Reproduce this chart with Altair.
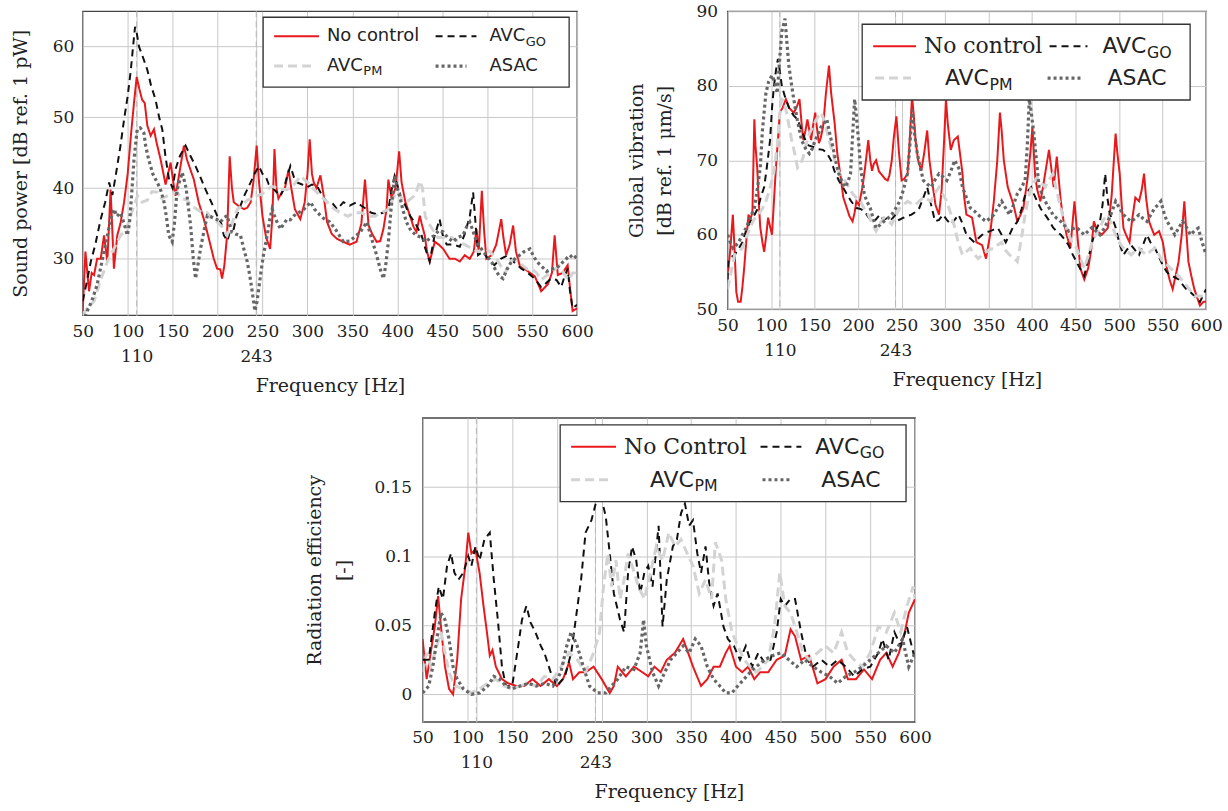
import altair as alt
import pandas as pd

SERIF = "DejaVu Serif"
SANS = "DejaVu Sans"
TXT = "#222222"

FREQ_TICKS = [50, 100, 110, 150, 200, 243, 250, 300, 350, 400, 450, 500, 550, 600]
MARK_FREQS = [110, 243]

# ---------------- Sound power [dB ref 1 pW] ----------------
SP_NC = [(50,22.6),(53,31),(57,25.4),(60,28),(62.6,27.7),(66,30),(70,30),(73.7,33.3),(77.4,29.6),(81,39.8),(84.7,28.6),(88.4,33.3),(92,35),(96,38),(100,42),(104,48),(107,52),(110,55.7),(113,54),(116,52.5),(119,52),(121.9,48.8),(125.6,47.4),(129.3,48.3),(132,46.5),(136.7,44),(142.2,40.5),(147.8,43.6),(150.5,41),(153.3,38.9),(158,42.5),(162.5,46),(166,44),(173.6,41.2),(179,38),(184.7,35.6),(190,33),(195.8,30),(199.5,28.6),(203,28.5),(205,27.2),(207.5,29),(210.6,33.3),(213.5,44.5),(216,40),(218,38),(223,37.5),(229.3,37),(233,37.2),(236.8,38),(240,41),(243.5,46),(246,41),(250,36),(254,33),(258.5,31.4),(261,36),(263.3,45.5),(265.5,40),(267.7,38.5),(272,39.5),(275,40),(279,42.6),(282,40),(286,37),(292,35.6),(297,38),(300,42),(302.5,46.9),(305,42),(307,40.8),(310,40),(314.4,41.8),(318,39),(321.8,35.2),(327,33.5),(333,32.8),(339.8,32.4),(347,32),(354.6,32.4),(360,35),(364,41.2),(368,34.7),(372,33.5),(377,32.4),(381,32.5),(384.5,34.2),(388,37),(390,41.2),(393.7,38.5),(398,40),(402,45.2),(404.7,40.8),(409,38),(414,36.1),(418,34.5),(421.3,33.8),(425,36.1),(427,35),(430.5,33.3),(433,31),(436,29.6),(441.7,32.4),(446,32),(451,31.4),(458,30),(464,30),(469.5,29.6),(475,30.5),(480.6,30),(485,31),(488,34.2),(490.5,31),(494,39.6),(496.5,34),(499,30),(505,30.5),(510,32),(515.6,35.6),(518,33),(521,30.5),(525,32),(528.8,34.7),(532,31),(536,29.1),(545.5,28.2),(553,27.5),(560,25.4),(567.5,26.4),(572,28),(575,33.3),(578.5,27.7),(584,28),(589.5,29.1),(592,26),(595,22.6),(600,23)]
SP_GO = [(50,24),(55,27),(59,29.6),(64,32),(70,35.6),(75,38),(79.4,40.8),(83,39),(87,42),(92,46),(96,49.7),(100,53),(103.5,56.7),(106,60),(108.2,62.8),(110,62),(112.6,60),(117,58.5),(121.9,56.7),(126,54.5),(131,52.5),(135,50),(138.5,48.3),(142,44.5),(146,41.2),(150,40),(153.3,42.7),(158,44.5),(164.4,46),(170,44.5),(175.5,43.1),(181,41.5),(186.6,39.8),(193,38),(199.5,36.1),(204,35),(207,33.3),(211,32.5),(214,34),(218,34.2),(221,36),(225.5,37.5),(230,39),(236.8,40.8),(241,42),(246,43.1),(250,42),(253.4,41.7),(257,40.5),(261,40.1),(265,39.5),(270,38.9),(274,40),(277,41.5),(281,43.1),(285,41.5),(288.5,40.8),(294,40.5),(299.6,40.1),(305,40.5),(310.7,40.3),(316,39),(321.8,38),(327,38),(333,37),(340,38),(347,37.5),(354.6,38),(360,37.5),(365.8,37),(371,36.5),(377,36.3),(384,36.5),(390,37),(394,40),(397,41.7),(401,40),(404.7,38.5),(409,37.5),(414,36.1),(420,35),(427,33.3),(431,31.5),(436,29.6),(441,33),(447,35.6),(451,33),(455,32),(462,32),(469.5,31.7),(475,33.5),(480.6,36),(484.3,39.4),(487,35),(489.8,30.5),(495,31),(501,30),(508,29.1),(515,30),(523,30.5),(530,29.5),(538,28.6),(545,28),(552.7,27.2),(560,26),(565,26.5),(571,27.2),(577,27),(582.3,26),(586,27.5),(589.5,28.6),(592,25.5),(595,23),(600,23.5)]
SP_PM = [(50,22),(55,23),(62.6,24),(70,27),(77.4,29.6),(85,31.5),(92,33.3),(98,34),(103.5,36.1),(107,37.5),(111,38.9),(116,38),(122,38.3),(127,39.5),(133,39.4),(138,38.5),(144,38.9),(150,39.2),(155,39.4),(160,38.5),(166,38.3),(171,37.5),(177,37),(183,36.5),(188.6,36.5),(194,35.5),(199.5,35.2),(205,34.5),(210.6,33.3),(216,35),(222,37),(227,37.5),(233,38.3),(238,38.5),(244,38.9),(250,39.2),(255,39.8),(261,40.2),(266,40),(272,39.8),(277.7,39.8),(285,40.5),(292.5,41.7),(300,40.8),(307,39.8),(314,39),(321.8,38),(330,37),(337,36.5),(345,36),(352,36.5),(360,36.5),(367,36),(375,36),(382,36.5),(390,37),(395,38.5),(400,39.5),(405,38.5),(410,38),(415,38.5),(420,39),(425,41),(428,40),(431,36),(435,35),(440,34),(445,33),(452,33),(460,33),(467,32.5),(475,32),(482,31.5),(490,31),(497,31.5),(503,31),(510,30),(515,29),(520,28),(525,29.5),(530,30),(535,29.5),(540,29),(545,28.5),(550,28.5),(555,28),(560,27),(565,27.5),(570,28),(575,28.5),(580,29),(585,28),(590,27),(595,28),(600,28)]
SP_ASAC = [(50,21),(55,22.6),(60,24),(66,26.3),(72,30),(77.4,33.3),(81,35.5),(85,37),(88,36),(92,36.5),(96,35),(99.6,33.3),(102,35),(104.8,39.8),(107,44),(110.6,48.3),(114,48.5),(118,47.8),(120,46),(123.4,44),(128,42),(132.8,40.8),(136,40),(140,38.3),(143,36),(145.7,33.3),(149.5,32.4),(152,35),(155,39.8),(160.7,42.2),(165,40),(170,34.7),(173,30),(175.5,27.2),(178,29),(181,31.4),(185,34),(188.6,36.1),(192,36),(196,35.7),(200,35.5),(203.2,35.2),(207,35.8),(210.6,36.1),(213,35),(216,33.8),(220,33.5),(225.5,33.3),(229,31.5),(233,29.6),(236,27.5),(238.5,25.4),(241.5,22.6),(244,24),(247.8,27.7),(251,30.5),(255.2,33.3),(258,35.5),(260.7,37),(265,35.5),(270,34.2),(274,35),(277.4,35.6),(281,35.5),(285,36.1),(290,36.5),(296,37),(300,37.5),(303.5,38),(308,37),(314.4,36.1),(320,35.5),(325,35.2),(332,34),(340,32.4),(347,32.5),(354.6,33.3),(360,34),(366,35.2),(371,33),(377,30.5),(381,28.5),(384.5,27.2),(387,29),(390,32.4),(393,37),(397,41.7),(400,40),(402.5,38.9),(406,37),(410,35.2),(415,34),(421,33.3),(427,33),(432,32.4),(437,33),(441.7,33.3),(446,34),(451,33.8),(456,33),(462,32.4),(467,33),(473,33.3),(477,34.5),(480.6,35.2),(484,34),(488,32.4),(493,31.5),(499,30.5),(505,29.5),(510,28.2),(514,27.5),(517.6,27.2),(522,28.5),(527,29.6),(531,30),(536,30.5),(541,31),(547.5,31.4),(551,30.5),(555,29.6),(560,29),(566,28.2),(571,28.5),(577,28.7),(580,29),(584.6,29.6),(588,30),(592,30.5),(596,30),(600,30.5)]

# ---------------- Global vibration [dB ref 1 um/s] ----------------
GV_NC = [(50,55),(51,55.5),(53,58),(56,62.7),(58,58),(60,52.3),(62,51),(65,51),(67,53),(69,55.5),(72,60),(74,62.7),(76,62),(78.5,63),(80.7,75.5),(82,72),(84,69),(86,64),(87.5,61),(90,59),(92,57.7),(94.5,60),(96.5,62.3),(99,61),(101,60),(103,64),(105.5,69),(108,73),(110,76.4),(113,77),(117,78.2),(121,77),(126,76.4),(129,77),(132.6,78.2),(135,75),(137,72.7),(139.5,74),(141.7,75.5),(144,74),(146,72.7),(148,74.5),(150.7,76.4),(153,74),(155,72.3),(157,73),(159.7,74.5),(163,79),(166.5,82.7),(169,79),(173,75),(176,71),(180,67.7),(183,65),(187,63.6),(190,62.5),(193.6,61.8),(196,63),(198,64.5),(201,64),(205,66.4),(208,69),(211.7,72.7),(214,70),(216,68.6),(218,69.5),(220.7,70),(224,68.5),(227.5,68),(231,67.5),(234,67.3),(236,68),(238.7,70),(241,73),(244,75.9),(247,71),(250,67.3),(253,67.5),(256.8,68.2),(259,72),(262,78.6),(264,76),(266,72.7),(269,70),(272.6,68.6),(276,71),(279.4,74),(282,70),(286,66.4),(289,64),(293,62.7),(296,66),(299,73),(301,78.2),(303,75),(306.5,71.4),(310,72.7),(314.6,73.2),(317,71),(320,68.2),(322,65),(324.5,62.7),(328,62.5),(331,62.3),(336,59),(342.6,58.6),(347,56.8),(351.7,60),(356,64.5),(360,70),(363,76.4),(365,74),(367.5,70),(372,66.4),(378.7,64),(383,61.8),(386,62.5),(390,63.6),(394.5,67.3),(398,71),(400.4,74.5),(402,71),(403.6,67.7),(406,66),(409.5,64.5),(412,66),(415,68.2),(419.4,71.4),(422,69),(424.8,66.4),(428.4,70.5),(431,67),(433,64.5),(436,62),(439.7,60),(444,58.2),(448.7,64.5),(452,60),(455.5,55.5),(460,54),(464.5,55.5),(468,58),(471,61.8),(475,60.5),(480,60),(484,60.5),(487,60.9),(489.5,63),(491.6,65.5),(494,70),(496,73.6),(498,71),(500.7,68.2),(503,64),(505,60.9),(508,60),(512,59),(515,62),(518.7,65),(523,64.5),(526,66),(528.7,68.2),(531,65),(534.5,61.8),(537,61),(540.4,60),(546,60.5),(550.3,59),(553,57),(555,55.5),(558,54),(561.6,52.7),(565,54.5),(568.4,56.4),(572,60),(575,64.5),(577,61),(579.7,56.4),(583,54.5),(586.5,52.7),(590,51.5),(593,50.5),(597,51),(600,51)]
GV_GO = [(50,54),(50.5,56.4),(54,57),(58,57.3),(62,58),(67,59),(71,60.5),(76,61.8),(80,62.5),(85,63.6),(88,65),(92,66.4),(95,69),(98.8,72.7),(101,77),(103.3,80),(105.5,82),(107.8,83.6),(110,82),(112.3,80),(116,78.5),(121.3,76.8),(126,76),(130.4,75.5),(135,74),(139.4,72.7),(143,72),(148.4,71.8),(154,71.5),(159.7,71.4),(164,71),(168.8,70),(173,68.5),(177.8,67.3),(182,66.5),(186.8,65.5),(192,64.5),(198,63.6),(202,63.5),(207,63.2),(211,62.5),(216,61.8),(220,62),(225,62.7),(229,62),(234,62.3),(238,62),(243,62.7),(247,62),(252.3,62.3),(256,62.5),(261.3,62.7),(265,63),(270.4,63.6),(275,65),(279.4,66.4),(284,64),(288.4,61.8),(293,62),(297.5,62.7),(302,62),(306.5,61.4),(311,62),(315.5,62.7),(320,61.5),(324.6,60),(329,59.5),(333.6,59),(338,59.5),(342.6,60),(347,60.3),(351.7,60.5),(356,60.7),(360.7,60.9),(365,60),(369.7,59),(374,60),(378,61),(383.3,61.8),(388,63.5),(392.3,65.5),(396,66),(399,66.4),(402,65.5),(405.8,64.5),(410,63.5),(414.9,62.7),(419,62),(424,61),(428,60.5),(433,60),(438,59.3),(442,58.6),(446,57.5),(451,56.4),(455,55.5),(460,54.5),(464,56.5),(469,59),(473,60.5),(478,61.8),(481,64),(484,68.2),(486.5,65),(489.4,62.7),(493,62),(496,61),(500,59),(505,57.3),(509,58),(514,58.6),(518,58),(523,57.3),(527,58.5),(532,60),(536,59),(541.3,58.2),(546,57),(550.3,55.9),(555,55),(559.4,54.5),(564,54.3),(568.4,54),(573,53.3),(577.4,52.7),(582,52.3),(586.5,51.8),(590,51.3),(593,51),(597,52),(600,52.7)]
GV_PM = [(50,52.7),(54,55),(58,57.3),(62,57.7),(67,58.2),(71,59.5),(76,61),(80,62),(85,62.7),(90,63.5),(94,64.5),(98,66),(103,68.2),(107,72),(110,76),(112,78.2),(114.5,78),(117,76.8),(120,75),(123.6,72.7),(127,71),(130.4,69),(134,69.5),(137,70.5),(140,72),(144,73.6),(148,74.5),(152,75.5),(157.5,76.4),(162,75),(166.5,72.7),(171,71),(175.5,69),(180,68),(184.6,67.3),(189,66.5),(193.6,65.5),(198,65),(202.6,64.5),(207,63.5),(211.7,62.7),(216,61.5),(220.7,60.5),(225,61.5),(229.7,62.3),(234,62),(238.7,61.4),(243,62.5),(247.8,63.6),(252,64),(256.8,64.5),(261,64.2),(265.8,64),(270,64.5),(274.9,65),(279,64.8),(284,64.5),(288,65.5),(293,66.4),(297,65.5),(302,64.5),(306,63),(311,61),(315,59),(320,57.3),(324,57.7),(329,58.2),(333,57.5),(338,56.8),(342,57.2),(347,57.7),(351,58),(356,58.2),(360,58.6),(365,59),(369,58),(374,57.3),(378,57),(383,56.4),(387,59),(392,62.7),(395,64.5),(399,66.4),(402,67),(405.8,67.7),(410,67),(415,66.4),(419,67.3),(424,68.2),(428,66),(433,63.6),(437,61.8),(442,60),(446,59),(451,58.2),(455,57),(460,55.5),(464,57),(469,59),(473,60),(478,61),(482,62),(487,62.7),(491,61.5),(496,60),(500,59),(505,58.2),(509,57.8),(514,57.3),(518,57.8),(523,58.2),(527,57.7),(532,57.3),(536,57.8),(541.3,58.2),(546,57.3),(550,56.4),(555,56),(559.4,55.5),(564,55),(568.4,54.5),(573,53.8),(577.4,53.2),(582,52.5),(586.5,51.8),(593,51.8),(600,51.8)]
GV_ASAC = [(50,60),(53,59),(56,58.2),(59,58.5),(62.6,59),(67,60),(71.7,61),(76,62.3),(80.7,63.6),(84,66),(87.5,69),(90,74),(94,79),(97,80.5),(101,81.4),(104,80.5),(107,79),(109.5,83),(112.3,87.3),(116,89),(118,86),(120.4,82.7),(123,80.5),(126,78.2),(130,75.5),(135,72.7),(140,71.5),(144,70.9),(147,71.5),(150.7,72.7),(154,73.5),(157.5,74.5),(161,75),(164,75.5),(167.5,73.5),(171,71.8),(174,70),(177.8,68.2),(181,67.3),(184.6,66.4),(188,67),(191.3,68.2),(194,74),(196,78.2),(198,76),(200.4,72.7),(203,69),(207,65.5),(210,64.5),(214,63.6),(217,62.3),(220.7,60.9),(225,61.3),(229.7,61.8),(234,62.2),(238.7,62.7),(243,63.5),(247.8,64.5),(252,66),(256.8,68.2),(259.5,72),(262,76.8),(265,73.5),(268,70.9),(271.5,69),(275,67.3),(279.5,66.8),(284,66.4),(288,67.3),(293,68.2),(297.5,67.8),(302,67.3),(306.5,68.5),(311,70),(315.5,69),(320,66.4),(324.5,65),(329,63.6),(333.5,63.2),(338,62.7),(342.5,62.2),(347,61.8),(351.5,62.2),(356,62.7),(360.5,63.6),(365,64.5),(369.5,63.6),(374,62.7),(378.5,64),(383,65.5),(387.5,66.3),(392,67.3),(394.5,72),(396.8,78.2),(399.5,76),(402,73.6),(405,70),(408,66.4),(411.5,65.5),(415,64.5),(419.5,63.6),(424,62.7),(428.5,62.2),(433,61.8),(437.5,61.2),(442,60.5),(446.5,60.8),(451,61),(455.5,60.5),(460,60),(464.5,60.5),(469,61),(473.5,60.5),(478,60),(482.5,60.8),(487,61.8),(491.5,63),(496,64.5),(500.5,63.6),(505,62.7),(509.5,62.2),(514,61.8),(518.5,62.2),(523,62.7),(527.5,62.2),(532,61.8),(536.5,62.7),(541,63.6),(544.5,64),(548,64.5),(551.5,63),(555,61.8),(559.5,61),(564,60),(568.5,60.9),(573,61.8),(577.5,61),(582,60),(586.5,60.5),(591,60.9),(595.5,59),(600,57.3)]

# ---------------- Radiation efficiency [-] ----------------
RE_NC = [(50,0.04),(54.5,0.011),(59,0.03),(63.6,0.049),(67.3,0.071),(70.5,0.049),(75,0.02),(79.5,0.004),(84,0.0),(88.6,0.025),(93,0.069),(97.7,0.093),(101,0.117),(104.5,0.102),(109,0.105),(113.6,0.088),(118,0.064),(121.8,0.045),(125,0.028),(128,0.032),(131.8,0.02),(138.6,0.011),(145.5,0.008),(154.5,0.006),(163.6,0.006),(172.7,0.011),(181.8,0.006),(191,0.011),(200,0.006),(206.8,0.011),(213.6,0.023),(218,0.011),(225,0.016),(232,0.016),(241,0.02),(250,0.011),(259,0.001),(263.6,0.006),(268,0.02),(277,0.013),(286,0.02),(295.5,0.016),(302,0.013),(309,0.02),(316,0.016),(322.7,0.025),(331.8,0.03),(341,0.04),(345.5,0.032),(352,0.02),(361,0.006),(368,0.011),(375,0.02),(382,0.02),(388.6,0.03),(393,0.035),(400,0.02),(407,0.016),(413.6,0.02),(420.5,0.011),(427,0.016),(436,0.016),(445.5,0.025),(454.5,0.028),(461,0.047),(466,0.042),(472.7,0.025),(481.8,0.028),(491,0.008),(500,0.011),(509,0.02),(518,0.025),(525,0.011),(534,0.011),(543,0.018),(552,0.011),(561,0.025),(568,0.03),(575,0.02),(582,0.03),(588.6,0.045),(593,0.059),(600,0.069)]
RE_GO = [(50,0.025),(56.8,0.025),(63.6,0.059),(68,0.078),(72.7,0.069),(77.3,0.093),(81.8,0.102),(85.5,0.088),(90,0.083),(95.5,0.088),(101,0.1),(104.5,0.093),(109,0.107),(113.6,0.097),(119,0.112),(125,0.117),(129.5,0.083),(134,0.054),(138.6,0.02),(143,0.006),(150,0.006),(156.8,0.035),(161,0.054),(166,0.064),(170.5,0.052),(176,0.045),(182,0.035),(186,0.03),(193,0.016),(200,0.006),(209,0.013),(216,0.03),(222,0.059),(227,0.083),(232,0.117),(238.6,0.126),(244.5,0.141),(250,0.141),(254.5,0.129),(259,0.102),(263.6,0.073),(270.5,0.054),(275,0.045),(279.5,0.088),(284,0.107),(288.6,0.097),(293,0.073),(297.7,0.088),(302,0.093),(306.8,0.078),(313.6,0.122),(318,0.049),(322.7,0.083),(329.5,0.107),(334,0.112),(338.6,0.131),(343,0.138),(347.7,0.122),(352,0.126),(356.8,0.102),(361,0.088),(366,0.107),(370.5,0.078),(375,0.064),(379.5,0.073),(386,0.049),(391,0.04),(397.7,0.035),(404.5,0.025),(411,0.035),(418,0.02),(425,0.03),(431.8,0.023),(438.6,0.025),(445.5,0.045),(450,0.069),(454.5,0.064),(461,0.069),(466,0.069),(472.7,0.045),(479.5,0.025),(486,0.02),(495.5,0.025),(504.5,0.02),(513.6,0.025),(522.7,0.02),(532,0.013),(541,0.018),(550,0.02),(559,0.03),(563.6,0.04),(570.5,0.025),(577,0.045),(584,0.035),(591,0.049),(600,0.025)]
RE_PM = [(50,0.016),(54.5,0.03),(59,0.02),(63.6,0.03),(70.5,0.045),(75,0.03),(79.5,0.016),(86,0.006),(95.5,0.004),(104.5,0.001),(113.6,0.004),(122.7,0.008),(131.8,0.011),(141,0.006),(150,0.004),(159,0.006),(168,0.008),(177,0.006),(186,0.013),(195.5,0.011),(204.5,0.02),(213.6,0.03),(222.7,0.025),(232,0.016),(241,0.03),(247.7,0.045),(252,0.078),(257,0.102),(261,0.078),(266,0.097),(270.5,0.069),(275,0.083),(279.5,0.102),(284,0.093),(291,0.078),(297.7,0.069),(304.5,0.088),(311,0.107),(318,0.097),(325,0.117),(332,0.107),(338.6,0.112),(345.5,0.102),(352,0.093),(359,0.073),(366,0.083),(372.7,0.069),(377,0.11),(384,0.097),(388.6,0.069),(395.5,0.045),(402,0.035),(409,0.025),(416,0.02),(422.7,0.016),(429.5,0.02),(436,0.025),(443,0.049),(449,0.088),(454.5,0.064),(461,0.059),(468,0.045),(475,0.03),(481.8,0.025),(491,0.03),(500,0.035),(509,0.03),(518,0.045),(525,0.03),(532,0.025),(541,0.02),(550,0.03),(559,0.049),(568,0.045),(577,0.059),(584,0.045),(591,0.064),(598,0.078),(600,0.069)]
RE_ASAC = [(50,0.001),(56.8,0.006),(61.4,0.02),(66,0.04),(70.5,0.059),(75,0.054),(79.5,0.04),(84,0.02),(88.6,0.011),(95.5,0.004),(104.5,0.0),(113.6,0.001),(122.7,0.006),(129.5,0.013),(136,0.011),(143,0.006),(150,0.004),(159,0.006),(168,0.008),(177,0.006),(186,0.008),(195.5,0.006),(204.5,0.016),(211,0.035),(215.9,0.045),(222.7,0.035),(229.5,0.02),(236.4,0.006),(245.5,0.001),(254.5,0.001),(261,0.006),(268,0.011),(277,0.02),(286,0.018),(293,0.03),(296.8,0.054),(300,0.035),(306.8,0.016),(313.6,0.006),(320.5,0.016),(327,0.025),(334,0.03),(341,0.035),(347.7,0.03),(354.5,0.04),(361,0.035),(368,0.02),(375,0.011),(382,0.006),(388.6,0.001),(395.5,0.001),(402,0.006),(409,0.011),(416,0.016),(422.7,0.02),(431.8,0.025),(441,0.028),(450,0.03),(459,0.025),(468,0.02),(477,0.025),(486,0.02),(495.5,0.016),(504.5,0.013),(513.6,0.008),(522.7,0.013),(532,0.016),(541,0.02),(550,0.025),(559,0.03),(568,0.035),(577,0.03),(586,0.04),(593,0.02),(600,0.03)]

STYLES = {
    "nc": dict(color="#e8191c", strokeWidth=2.0),
    "go": dict(color="#111111", strokeWidth=2.0, strokeDash=[7, 5]),
    "pm": dict(color="#d3d3d3", strokeWidth=3.0, strokeDash=[9, 5]),
    "asac": dict(color="#666666", strokeWidth=3.2, strokeDash=[3, 3]),
}

ONE = pd.DataFrame({"k": [0]})


def x_enc():
    return alt.X(
        "f:Q",
        scale=alt.Scale(domain=[50, 600], nice=False, zero=False),
        axis=alt.Axis(
            values=FREQ_TICKS, format="d",
            labelExpr="datum.value == 110 ? ['', '110'] : (datum.value == 243 ? ['', '243'] : datum.label)",
            labelFont=SERIF, labelFontSize=17, labelColor=TXT, labelPadding=8,
            labelLineHeight=25, labelOverlap=False, labelFlush=False,
            ticks=False, domain=False, grid=True, gridColor="#c8c8c8", gridWidth=1,
            title="Frequency [Hz]", titleFont=SERIF, titleFontSize=19,
            titleFontWeight="normal", titleColor=TXT, titlePadding=12,
        ),
    )


def y_enc(dom, ticks, fmt, title, title_pad, label_pad, lh):
    return alt.Y(
        "v:Q",
        scale=alt.Scale(domain=dom, nice=False, zero=False),
        axis=alt.Axis(
            values=ticks, format=fmt, labelFont=SERIF, labelFontSize=17,
            labelColor=TXT, labelPadding=label_pad, labelFlush=False,
            labelOverlap=False, ticks=False, domain=False, grid=True,
            gridColor="#c8c8c8", gridWidth=1, title=title, titleFont=SERIF,
            titleFontSize=19, titleFontWeight="normal", titleColor=TXT,
            titlePadding=title_pad, titleLineHeight=lh,
        ),
    )


def legend(box, items):
    layers = [alt.Chart(ONE).mark_rect(fill="white", stroke="#333333", strokeWidth=1.3).encode(
        x=alt.value(box[0]), x2=alt.value(box[2]), y=alt.value(box[1]), y2=alt.value(box[3]))]
    for key, sx0, sx1, sy, text, tx, font, fs, sub in items:
        layers.append(alt.Chart(ONE).mark_rule(**STYLES[key]).encode(
            x=alt.value(sx0), x2=alt.value(sx1), y=alt.value(sy)))
        layers.append(alt.Chart(ONE).mark_text(text=text, align="left", baseline="middle",
                                               font=font, fontSize=fs, color=TXT).encode(
            x=alt.value(tx), y=alt.value(sy)))
        if sub:
            layers.append(alt.Chart(ONE).mark_text(text=sub, align="left", baseline="middle",
                                                   font=font, fontSize=fs * 0.72, color=TXT).encode(
                x=alt.value(tx + 2.03 * fs), y=alt.value(sy + fs * 0.3)))
    return layers


def panel(series, ydom, yticks, yfmt, ytitle, w, h, leg, title_pad, label_pad, lh):
    X = x_enc()
    Y = y_enc(ydom, yticks, yfmt, ytitle, title_pad, label_pad, lh)
    layers = [alt.Chart(pd.DataFrame({"f": MARK_FREQS})).mark_rule(
        color="#b8b8b8", strokeDash=[6, 4], strokeWidth=1).encode(x=X)]
    for key, pts in series:
        df = pd.DataFrame(pts, columns=["f", "v"])
        layers.append(alt.Chart(df).mark_line(clip=True, **STYLES[key]).encode(x=X, y=Y))
    layers += leg
    return alt.layer(*layers).properties(width=w, height=h)


legA = legend((181, 6, 488, 76), [
    ("nc", 192, 237, 25, "No control", 245, SANS, 18, None),
    ("go", 354, 395, 25, "AVC", 408, SANS, 18, "GO"),
    ("pm", 192, 233, 55, "AVC", 245, SANS, 18, "PM"),
    ("asac", 354, 385, 55, "ASAC", 408, SANS, 18, None),
])
legB = legend((135, 13, 464, 89), [
    ("nc", 146, 189, 35, "No control", 197, SERIF, 22, None),
    ("go", 323, 361, 35, "AVC", 376, SANS, 22, "GO"),
    ("pm", 148, 184, 67, "AVC", 218, SANS, 22, "PM"),
    ("asac", 321, 355, 67, "ASAC", 381, SANS, 22, None),
])
legC = legend((138, 7, 485, 84), [
    ("nc", 149, 194, 29, "No Control", 202, SERIF, 22, None),
    ("go", 339, 380, 29, "AVC", 394, SANS, 22, "GO"),
    ("pm", 149, 189, 62, "AVC", 228, SANS, 22, "PM"),
    ("asac", 341, 370, 62, "ASAC", 400, SANS, 22, None),
])

A = panel([("nc", SP_NC), ("go", SP_GO), ("pm", SP_PM), ("asac", SP_ASAC)],
          [22, 65], [30, 40, 50, 60], "d", "Sound power [dB ref. 1 pW]",
          496, 305, legA, 22, 9, 24)
B = panel([("nc", GV_NC), ("go", GV_GO), ("pm", GV_PM), ("asac", GV_ASAC)],
          [50, 90], [50, 60, 70, 80, 90], "d", ["Global vibration", "[dB ref. 1 \u03bcm/s]"],
          480, 299, legB, 22, 10, 28)
C = panel([("nc", RE_NC), ("go", RE_GO), ("pm", RE_PM), ("asac", RE_ASAC)],
          [-0.02, 0.2], [0, 0.05, 0.1, 0.15], "~g", ["Radiation efficiency", "[-]"],
          494, 305, legC, 20, 11, 30)

spacer = alt.Chart(ONE).mark_point(opacity=0).properties(
    width=210, height=10, view=alt.ViewBackground(stroke=None))

top = alt.hconcat(A, B, spacing=32)
bottom = alt.hconcat(spacer, C, spacing=12)

chart = alt.vconcat(top, bottom, spacing=20).properties(
    padding={"left": 10, "top": 0, "right": 5, "bottom": 5},
    background="white",
).configure_view(stroke="#444444", strokeWidth=1.4)

chart.save("out.html", embed_options={"renderer": "svg", "actions": False})
